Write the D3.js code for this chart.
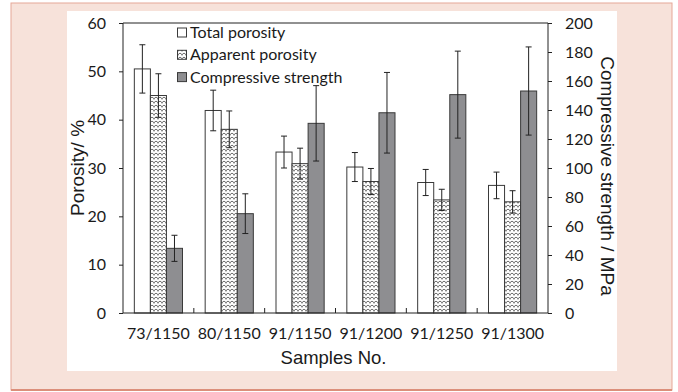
<!DOCTYPE html>
<html>
<head>
<meta charset="utf-8">
<script src="https://cdn.jsdelivr.net/npm/d3@7"></script>
<style>
  html, body { margin: 0; padding: 0; background: #ffffff; }
  svg { display: block; }
</style>
</head>
<body>
<svg id="chart" width="678" height="392"></svg>
<script>
// Sample series: porosity (left axis, %) and compressive strength (right axis, MPa)
const categories = ["73/1150", "80/1150", "91/1150", "91/1200", "91/1250", "91/1300"];
const totalPorosity = [50.5, 41.9, 33.3, 30.2, 27.0, 26.4];
const totalPorosityErr = [5.0, 4.2, 3.3, 3.0, 2.7, 2.75];
const apparentPorosity = [45.0, 38.0, 30.9, 27.2, 23.4, 23.0];
const apparentPorosityErr = [4.5, 3.8, 3.2, 2.7, 2.2, 2.3];
const compressiveStrength = [44.6, 68.5, 130.8, 138.1, 150.6, 153.1];
const compressiveStrengthErr = [9.0, 13.7, 26.0, 27.8, 30.0, 30.4];

const seriesNames = ["Total porosity", "Apparent porosity", "Compressive strength"];
const leftTicks = [0, 10, 20, 30, 40, 50, 60];
const rightTicks = [0, 20, 40, 60, 80, 100, 120, 140, 160, 180, 200];

const svg = d3.select("#chart");
const plot = { left: 123, right: 548, top: 23, bottom: 313 };

const tickFont = "Lato, 'Open Sans', sans-serif";
const titleFont = "'Liberation Sans', Arial, sans-serif";
const tickSize = 16;

// framed background and white panel
svg.append("rect").attr("x", 11).attr("y", 3).attr("width", 661).attr("height", 387)
  .attr("fill", "#f7e2da").attr("stroke", "#e6a898").attr("stroke-width", 1);
svg.append("line").attr("x1", 11).attr("x2", 672).attr("y1", 390).attr("y2", 390)
  .attr("stroke", "#dc8f7b").attr("stroke-width", 2);
svg.append("rect").attr("x", 67).attr("y", 11).attr("width", 550).attr("height", 360)
  .attr("fill", "#ffffff");

// patterned fill for apparent porosity
const defs = svg.append("defs");
const pat = defs.append("pattern").attr("id", "weave").attr("patternUnits", "userSpaceOnUse")
  .attr("width", 4).attr("height", 4);
pat.append("rect").attr("width", 4).attr("height", 4).attr("fill", "#ffffff");
pat.append("path").attr("d", "M0,0.8 L2,2.8 L4,0.8").attr("fill", "none")
  .attr("stroke", "#505050").attr("stroke-width", 1);
pat.append("rect").attr("x", 1.5).attr("y", 3.3).attr("width", 1).attr("height", 0.7).attr("fill", "#888");

const fills = ["#ffffff", "url(#weave)", "#8e8e91"];

// scales
const x0 = d3.scaleBand().domain(categories).range([plot.left, plot.right])
  .paddingInner(0.32).paddingOuter(0.16);
const x1 = d3.scaleBand().domain(seriesNames).range([0, x0.bandwidth()]);
const yL = d3.scaleLinear().domain([0, 60]).range([plot.bottom, plot.top]);
const yR = d3.scaleLinear().domain([0, 200]).range([plot.bottom, plot.top]);

const rows = categories.map((c, i) => [
  { cat: c, s: seriesNames[0], v: totalPorosity[i], e: totalPorosityErr[i], y: yL, fill: fills[0] },
  { cat: c, s: seriesNames[1], v: apparentPorosity[i], e: apparentPorosityErr[i], y: yL, fill: fills[1] },
  { cat: c, s: seriesNames[2], v: compressiveStrength[i], e: compressiveStrengthErr[i], y: yR, fill: fills[2] }
]).flat();

// bars
svg.append("g").selectAll("rect").data(rows).join("rect")
  .attr("x", d => x0(d.cat) + x1(d.s))
  .attr("y", d => d.y(d.v))
  .attr("width", x1.bandwidth())
  .attr("height", d => plot.bottom - d.y(d.v))
  .attr("fill", d => d.fill)
  .attr("stroke", "#3a3a3a").attr("stroke-width", 1);

// error bars
const eg = svg.append("g").attr("stroke", "#222").attr("stroke-width", 1);
rows.forEach(d => {
  const cx = x0(d.cat) + x1(d.s) + x1.bandwidth() / 2;
  const y1 = d.y(d.v + d.e), y2 = d.y(d.v - d.e);
  eg.append("line").attr("x1", cx).attr("x2", cx).attr("y1", y1).attr("y2", y2);
  eg.append("line").attr("x1", cx - 3).attr("x2", cx + 3).attr("y1", y1).attr("y2", y1);
  eg.append("line").attr("x1", cx - 3).attr("x2", cx + 3).attr("y1", y2).attr("y2", y2);
});

// axes
const axisColor = "#222";
const leftAxis = svg.append("g").attr("transform", `translate(${plot.left},0)`)
  .call(d3.axisLeft(yL).tickValues(leftTicks).tickSize(4).tickPadding(13));
const rightAxis = svg.append("g").attr("transform", `translate(${plot.right},0)`)
  .call(d3.axisRight(yR).tickValues(rightTicks).tickSize(4).tickPadding(13));
[leftAxis, rightAxis].forEach(a => {
  a.select(".domain").attr("stroke", axisColor).attr("d", `M0,${plot.top}V${plot.bottom}`);
  a.selectAll(".tick line").attr("stroke", axisColor);
  a.selectAll("text").attr("font-family", tickFont).attr("font-size", tickSize).attr("fill", "#1a1a1a");
});

// bottom axis: labels under groups, inward ticks between groups
const bottomAxis = svg.append("g").attr("transform", `translate(0,${plot.bottom})`)
  .call(d3.axisBottom(x0).tickSize(0).tickPadding(15));
bottomAxis.select(".domain").attr("d", `M${plot.left},0H${plot.right}`).attr("stroke", axisColor);
bottomAxis.selectAll("text").attr("font-family", tickFont).attr("font-size", tickSize).attr("fill", "#1a1a1a");
const step = x0.step();
const sepData = categories.slice(1).map(c => x0(c) - x0.paddingInner() * step / 2);
svg.append("g").selectAll("line").data(sepData).join("line")
  .attr("x1", d => d).attr("x2", d => d).attr("y1", plot.bottom).attr("y2", plot.bottom - 5)
  .attr("stroke", axisColor);

// top frame
svg.append("line").attr("x1", plot.left).attr("x2", plot.right)
  .attr("y1", plot.top).attr("y2", plot.top).attr("stroke", axisColor);

// axis titles
svg.append("text").attr("transform", `translate(84,${(plot.top + plot.bottom) / 2}) rotate(-90)`)
  .attr("text-anchor", "middle").attr("font-family", titleFont).attr("font-size", 19)
  .attr("fill", "#1a1a1a").text("Porosity/ %");
svg.append("text").attr("transform", `translate(601,${(plot.top + plot.bottom) / 2 + 8}) rotate(90)`)
  .attr("text-anchor", "middle").attr("font-family", titleFont).attr("font-size", 19)
  .attr("fill", "#1a1a1a").text("Compressive strength / MPa");
svg.append("text").attr("x", (plot.left + plot.right) / 2 - 2).attr("y", 364)
  .attr("text-anchor", "middle").attr("font-family", titleFont).attr("font-size", 18.5)
  .attr("fill", "#1a1a1a").text("Samples No.");

// legend
const legend = svg.append("g");
seriesNames.forEach((name, i) => {
  const ly = 32.5 + i * 22.3;
  legend.append("rect").attr("x", 177.5).attr("y", ly - 4.5).attr("width", 9).attr("height", 9)
    .attr("fill", fills[i]).attr("stroke", "#3a3a3a").attr("stroke-width", 1);
  legend.append("text").attr("x", 190).attr("y", ly).attr("dy", "0.35em")
    .attr("font-family", tickFont).attr("font-size", tickSize).attr("fill", "#1a1a1a").text(name);
});
</script>
</body>
</html>
